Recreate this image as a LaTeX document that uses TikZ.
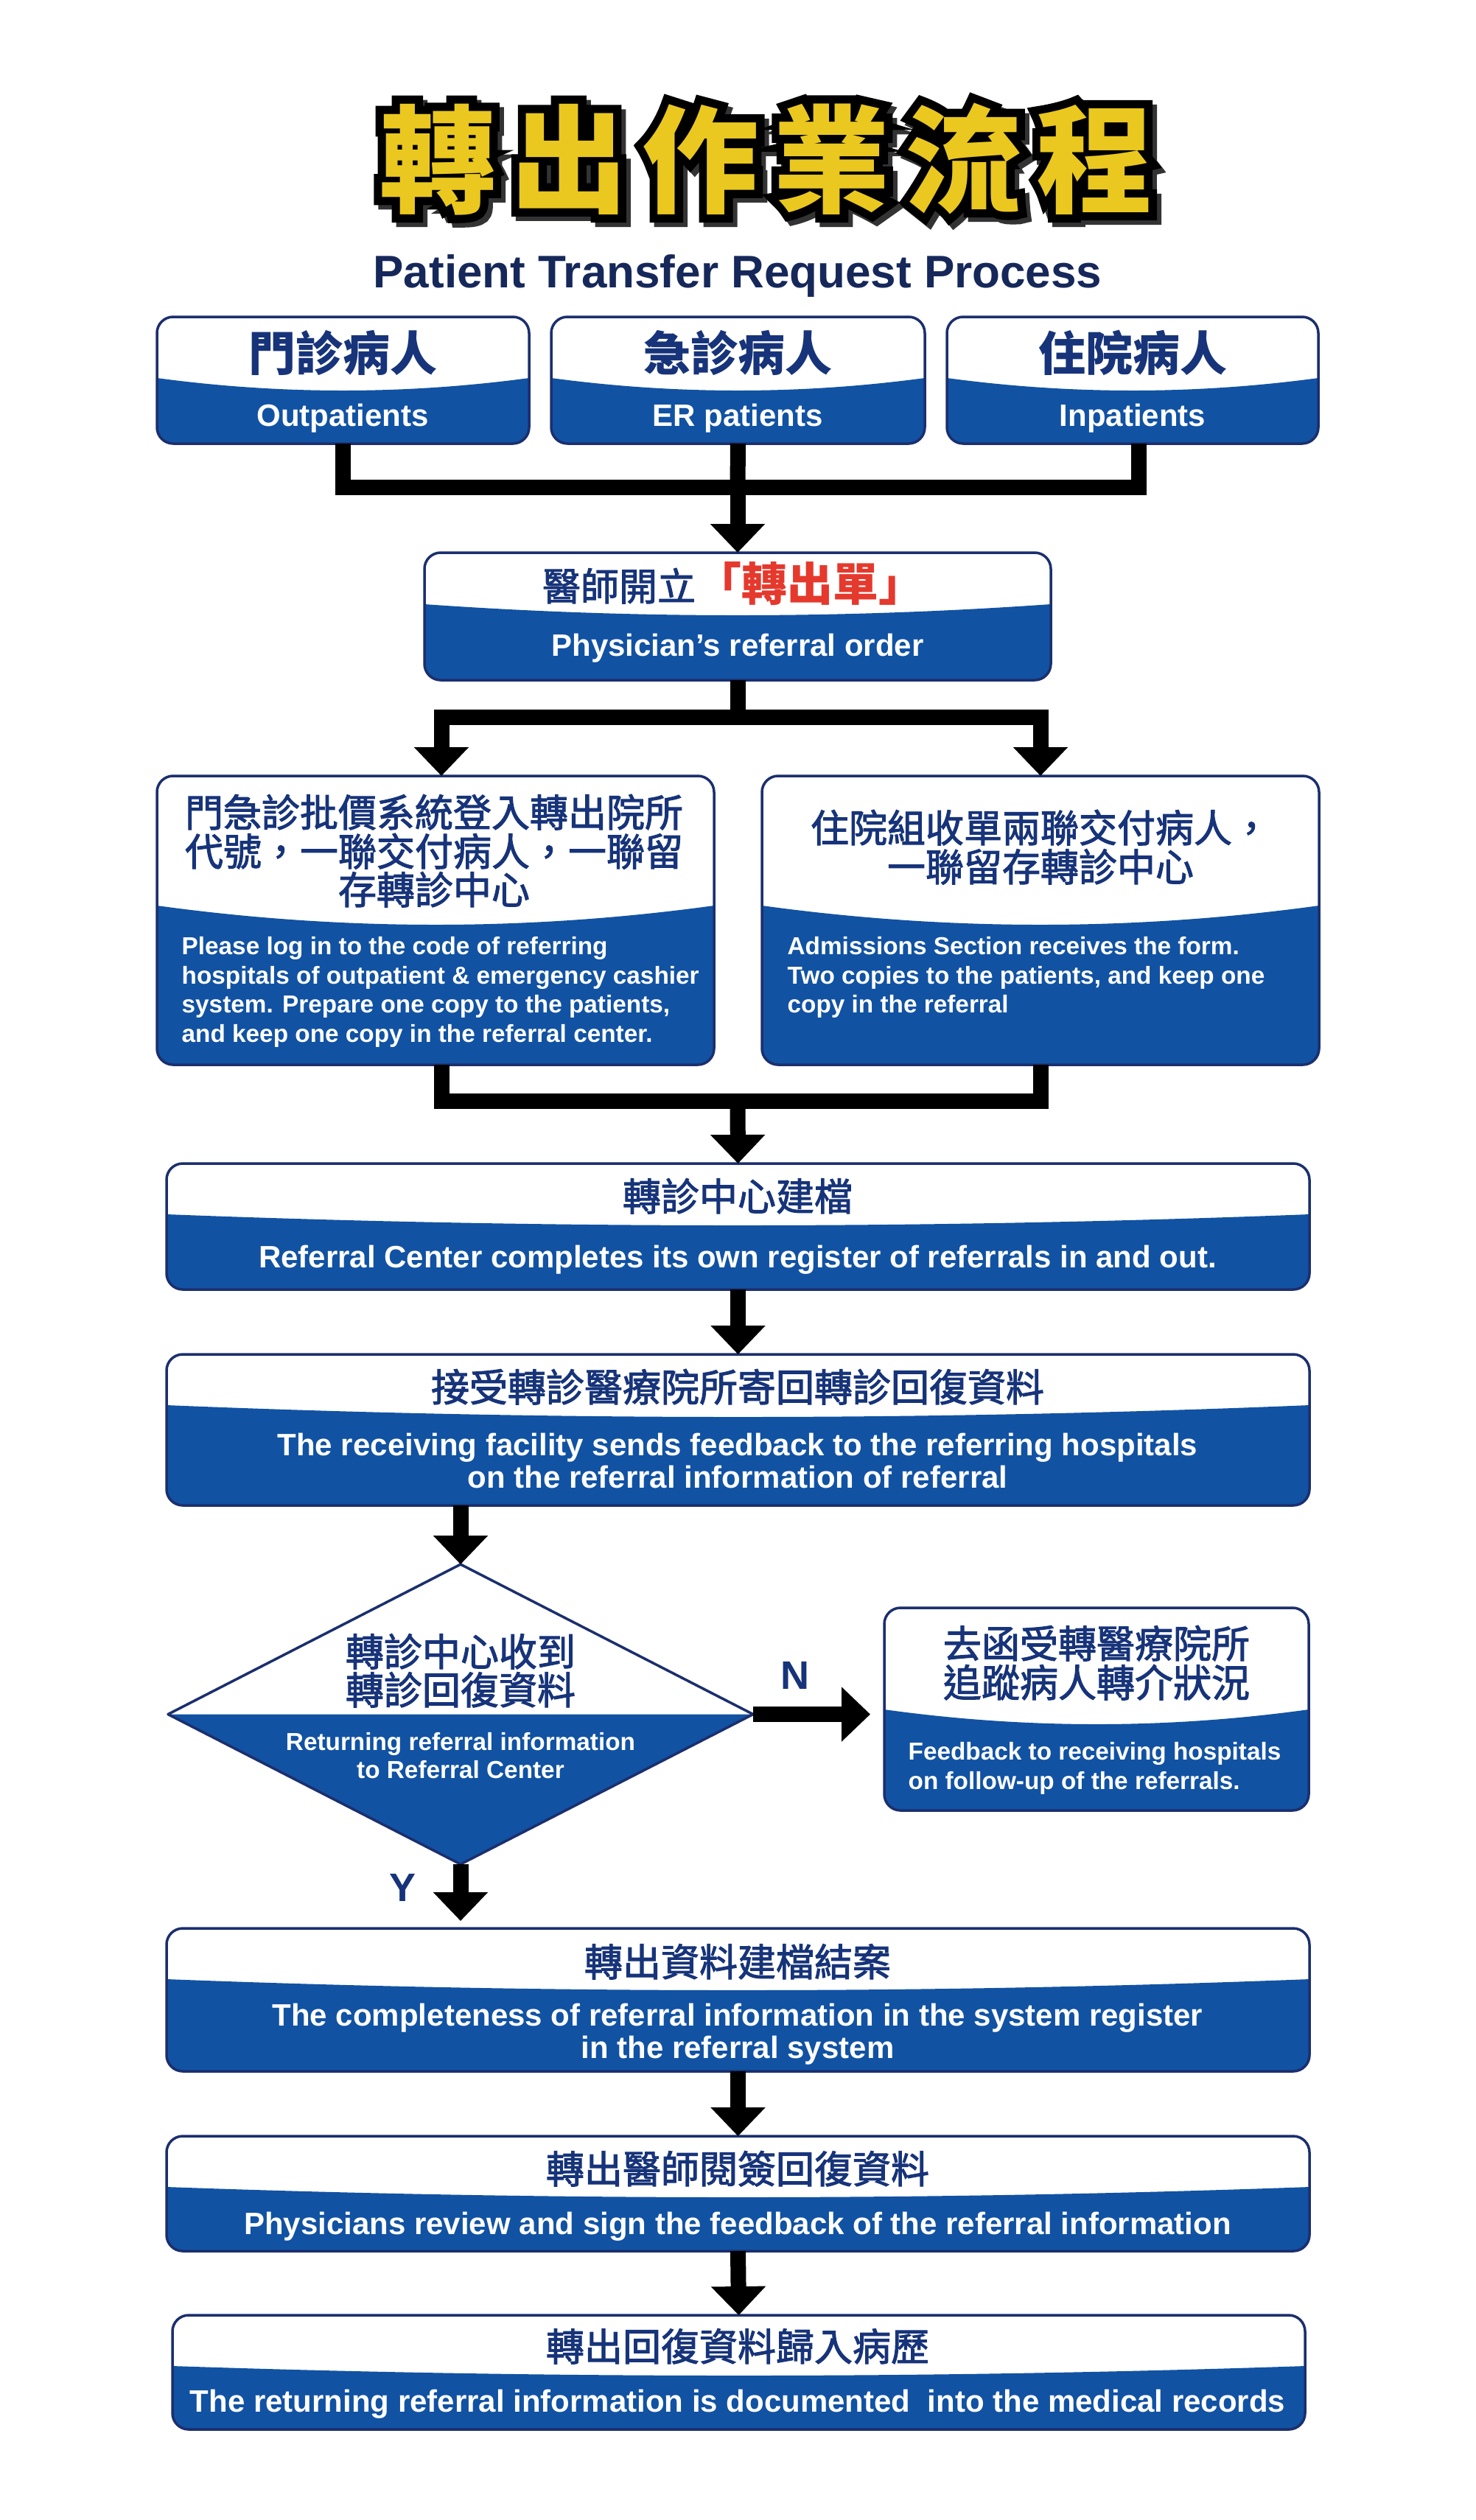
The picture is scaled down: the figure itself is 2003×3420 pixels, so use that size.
\documentclass[tikz,border=0pt]{standalone}
\usepackage{fontspec}
\setmainfont{Liberation Sans}
\newfontfamily\cjk{Noto Sans CJK TC}
\newfontfamily\cjkm{Noto Sans CJK TC}[FakeBold=2]
\newfontfamily\titleout{Noto Sans CJK TC}[BoldFeatures={FakeBold=14}]
\usetikzlibrary{arrows.meta,fit}
\definecolor{boxblue}{HTML}{1152A3}
\definecolor{boxline}{HTML}{1B2F6E}
\definecolor{zhnavy}{HTML}{17347A}
\definecolor{subnavy}{HTML}{16285A}
\definecolor{titleyellow}{HTML}{EAC81F}
\definecolor{redtxt}{HTML}{E5392D}
\tikzset{
  conn/.style={line width=6.3pt, black},
  arr/.style={conn, -{Triangle[width=21.6pt,length=11.7pt]}},
  boxframe/.style={inner sep=0pt, outer sep=0pt},
  zh/.style={font=\cjkm\fontsize{15.6}{15.6}\selectfont, text=zhnavy, inner sep=0pt, anchor=base},
  zhbig/.style={font=\cjk\bfseries\fontsize{19.2}{19.2}\selectfont, text=zhnavy, inner sep=0pt, anchor=base},
  en/.style={font=\bfseries\fontsize{12.6}{12.6}\selectfont, text=white, inner sep=0pt, anchor=base},
  ensm/.style={font=\bfseries\fontsize{10}{10}\selectfont, text=white, inner sep=0pt, anchor=base west},
  ensmc/.style={font=\bfseries\fontsize{10}{10}\selectfont, text=white, inner sep=0pt, anchor=base},
  lbl/.style={font=\bfseries\fontsize{16.2}{16.2}\selectfont, text=zhnavy, inner sep=0pt, anchor=base},
  titlefill/.style={font=\cjk\bfseries\fontsize{47.5}{47.5}\selectfont, inner sep=0pt, anchor=base},
  titleline/.style={font=\titleout\bfseries\fontsize{47.5}{47.5}\selectfont, inner sep=0pt, anchor=base},
}
% name, L, T, R, B, y at edges, y at centre of the curve
\newcommand\flowbox[7]{%
  \node[boxframe, fit={(#2,#3) (#4,#5)}] (#1) {};
  \begin{scope}
    \clip[rounded corners=6.6pt] (#2,#3) rectangle (#4,#5);
    \fill[white] (#2,#3) rectangle (#4,#5);
    \fill[boxblue] (#2,#6) .. controls ({#2+(#4-#2)/3},{#6+4/3*(#7-#6)}) and ({#4-(#4-#2)/3},{#6+4/3*(#7-#6)}) .. (#4,#6) -- (#4,#5) -- (#2,#5) -- cycle;
  \end{scope}
  \draw[boxline, line width=1.05pt, rounded corners=6.6pt] (#2,#3) rectangle (#4,#5);
}
\newcommand\titletext{轉\hspace{6pt}出\hspace{6pt}作\hspace{6pt}業\hspace{6pt}流\hspace{6pt}程}
\begin{document}
\begin{tikzpicture}[x=0.3pt, y=-0.3pt]
\useasboundingbox (0,0) rectangle (2003,3420);
\fill[white] (0,0) rectangle (2003,3420);

% ---------- title ----------
\node[titleline, text=black!80, xshift=1.8pt, yshift=-1.8pt] (title-shadow) at (1040,276) {\titletext};
\node[titleline, text=black] (title-outline) at (1040,276) {\titletext};
\node[titlefill, text=titleyellow] (title) at (1040,276) {\titletext};
\node[font=\bfseries\fontsize{18.6}{18.6}\selectfont, text=subnavy, inner sep=0pt, anchor=base] (subtitle) at (1001,390) {Patient Transfer Request Process};

% ---------- top boxes ----------
\flowbox{top1}{213}{430}{718}{602}{513}{530}
\flowbox{top2}{748}{430}{1255}{602}{513}{530}
\flowbox{top3}{1285}{430}{1789}{602}{513}{530}
\node[zhbig] (top1-zh) at (465,503) {門診病人};
\node[zhbig] (top2-zh) at (1001,503) {急診病人};
\node[zhbig] (top3-zh) at (1537,503) {住院病人};
\node[en] (top1-en) at (465,578) {Outpatients};
\node[en] (top2-en) at (1001,578) {ER patients};
\node[en] (top3-en) at (1537,578) {Inpatients};

% ---------- physician ----------
\flowbox{phys}{576}{750}{1426}{923}{820}{835}
\node[zh] (phys-zh) at (995,815) {醫師開立{\color{redtxt}\cjk\bfseries\fontsize{18.6}{18.6}\selectfont 「轉出單」}};
\node[en] (phys-en) at (1001,890) {Physician’s referral order};

% ---------- split boxes ----------
\flowbox{boxL}{213}{1053}{969}{1445}{1229}{1255}
\node[zh] (boxL-zh1) at (589,1122) {門急診批價系統登入轉出院所};
\node[zh] (boxL-zh2) at (589,1175) {代號，一聯交付病人，一聯留};
\node[zh] (boxL-zh3) at (589,1227) {存轉診中心};
\node[ensm] (boxL-en1) at (246,1295) {Please log in to the code of referring};
\node[ensm] (boxL-en2) at (246,1335) {hospitals of outpatient \& emergency cashier};
\node[ensm] (boxL-en3) at (246,1374) {system. Prepare one copy to the patients,};
\node[ensm] (boxL-en4) at (246,1414) {and keep one copy in the referral center.};

\flowbox{boxR}{1034}{1053}{1790}{1445}{1229}{1255}
\node[zh] (boxR-zh1) at (1412,1143) {住院組收單兩聯交付病人，};
\node[zh] (boxR-zh2) at (1412,1196) {一聯留存轉診中心};
\node[ensm] (boxR-en1) at (1068,1295) {Admissions Section receives the form.};
\node[ensm] (boxR-en2) at (1068,1335) {Two copies to the patients, and keep one};
\node[ensm] (boxR-en3) at (1068,1374) {copy in the referral};

% ---------- box 4 / 5 ----------
\flowbox{box4}{226}{1579}{1777}{1750}{1648}{1663}
\node[zh] (box4-zh) at (1001,1643) {轉診中心建檔};
\node[en] (box4-en) at (1001,1720) {Referral Center completes its own register of referrals in and out.};

\flowbox{box5}{226}{1838}{1777}{2043}{1907}{1923}
\node[zh] (box5-zh) at (1001,1902) {接受轉診醫療院所寄回轉診回復資料};
\node[en] (box5-en1) at (1001,1975) {The receiving facility sends feedback to the referring hospitals};
\node[en] (box5-en2) at (1001,2019) {on the referral information of referral};

% ---------- decision ----------
\node[boxframe, fit={(228,2123) (1022,2530)}] (dia) {};
\fill[white] (dia.north) -- (dia.east) -- (dia.west) -- cycle;
\fill[boxblue] (dia.west) -- (dia.east) -- (dia.south) -- cycle;
\draw[boxline, line width=1.05pt, line join=round] (dia.north) -- (dia.east) -- (dia.south) -- (dia.west) -- cycle;
\node[zh] (dia-zh1) at (625,2261) {轉診中心收到};
\node[zh] (dia-zh2) at (625,2313) {轉診回復資料};
\node[ensmc] (dia-en1) at (625,2375) {Returning referral information};
\node[ensmc] (dia-en2) at (625,2413) {to Referral Center};

\flowbox{boxN}{1200}{2182}{1776}{2457}{2320}{2340}
\node[zh] (boxN-zh1) at (1488,2250) {去函受轉醫療院所};
\node[zh] (boxN-zh2) at (1488,2303) {追蹤病人轉介狀況};
\node[ensm] (boxN-en1) at (1232,2388) {Feedback to receiving hospitals};
\node[ensm] (boxN-en2) at (1232,2428) {on follow-up of the referrals.};

% ---------- bottom boxes ----------
\flowbox{box7}{226}{2617}{1777}{2811}{2686}{2701}
\node[zh] (box7-zh) at (1001,2682) {轉出資料建檔結案};
\node[en] (box7-en1) at (1001,2749) {The completeness of referral information in the system register};
\node[en] (box7-en2) at (1001,2793) {in the referral system};

\flowbox{box8}{226}{2899}{1777}{3055}{2968}{2982}
\node[zh] (box8-zh) at (1001,2963) {轉出醫師閱簽回復資料};
\node[en] (box8-en) at (1001,3032) {Physicians review and sign the feedback of the referral information};

\flowbox{box9}{234}{3142}{1771}{3297}{3211}{3224}
\node[zh] (box9-zh) at (1001,3204) {轉出回復資料歸入病歷};
\node[en] (box9-en) at (1001,3273) {The returning referral information is documented\ \ into the medical records};

% ---------- connectors ----------
\coordinate (j1) at (1001,661);
\draw[conn] (top1.south) |- (j1) -| ([xshift=2.4pt]top3.south);
\draw[conn] (top2.south) -- (j1);
\draw[arr] (j1) -- (phys.north);

\coordinate (j2) at (1001,973);
\draw[conn] (phys.south) -- (j2);
\draw[arr] (j2) -| ([xshift=2.4pt]boxL.north);
\draw[arr] (j2) -| (boxR.north);

\coordinate (j3) at (1001,1494);
\draw[conn] ([xshift=2.4pt]boxL.south) |- (j3);
\draw[conn] (boxR.south) |- (j3);
\draw[arr] (j3) -- (box4.north);

\draw[arr] (box4.south) -- (box5.north);
\draw[arr] (dia.north |- box5.south) -- (dia.north);
\draw[arr, shorten >=3pt] (dia.south) -- (dia.south |- box7.north);
\draw[arr, shorten >=5.7pt] (dia.east) -- (dia.east -| boxN.west);
\draw[arr] (box7.south) -- (box8.north);
\draw[arr] (box8.south) -- (box9.north);

\node[lbl] (nlab) at (1079,2292) {N};
\node[lbl] (ylab) at (547,2580) {Y};
\end{tikzpicture}
\end{document}
